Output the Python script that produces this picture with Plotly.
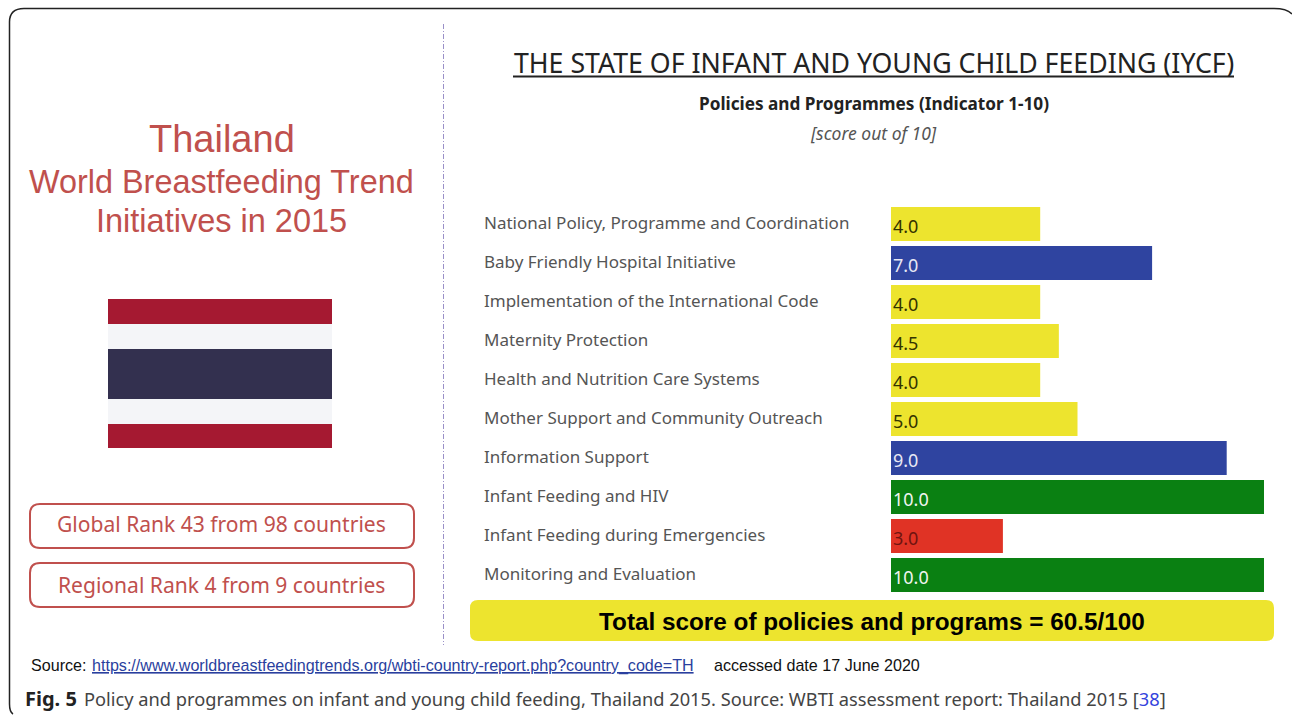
import plotly.graph_objects as go

W, H = 1292, 717

categories = ["National Policy, Programme and Coordination", "Baby Friendly Hospital Initiative",
              "Implementation of the International Code", "Maternity Protection",
              "Health and Nutrition Care Systems", "Mother Support and Community Outreach",
              "Information Support", "Infant Feeding and HIV",
              "Infant Feeding during Emergencies", "Monitoring and Evaluation"]
scores = [4.0, 7.0, 4.0, 4.5, 4.0, 5.0, 9.0, 10.0, 3.0, 10.0]
bar_colors = ["#ede42e", "#2f44a0", "#ede42e", "#ede42e", "#ede42e", "#ede42e", "#2f44a0",
              "#0a8012", "#e03325", "#0a8012"]
label_colors = ["#333300", "#e8e8f4", "#333300", "#333300", "#333300", "#333300", "#e8e8f4",
                "#f0f5f0", "#6e1410", "#f0f5f0"]

px = lambda v: v / W
py = lambda v: 1 - v / H

fig = go.Figure(go.Bar(
    y=categories, x=scores, orientation="h", marker=dict(color=bar_colors, line=dict(width=0)),
    hoverinfo="skip",
))

def txt(x, y, s, size, color, family="Liberation Sans", anchor="center"):
    fig.add_annotation(xref="paper", yref="paper", x=px(x), y=py(y), text=s, showarrow=False,
                       xanchor=anchor, yanchor="middle", borderpad=0,
                       font=dict(size=size, color=color, family=family))

RED = "#c0504d"
txt(221.5, 139, "Thailand", 38, RED)
txt(221.5, 182, "World Breastfeeding Trend", 32.4, RED)
txt(221.5, 221, "Initiatives in 2015", 32.5, RED)
txt(221.5, 523.5, "Global Rank 43 from 98 countries", 21.05, RED, "Noto Sans")
txt(221.5, 584.5, "Regional Rank 4 from 9 countries", 21.05, RED, "Noto Sans")
txt(873.5, 62, "THE STATE OF INFANT AND YOUNG CHILD FEEDING (IYCF)", 26.7, "#222222", "Noto Sans")
txt(873.5, 104, "<b>Policies and Programmes (Indicator 1-10)</b>", 17.2, "#222222", "Noto Sans")
txt(873.5, 133, "<i>[score out of 10]</i>", 17.5, "#555555", "Noto Sans")
txt(872, 621.5, "<b>Total score of policies and programs = 60.5/100</b>", 24.3, "#000000")
txt(30, 665, "Source: ", 16.1, "#111111", anchor="left")
txt(91, 665, "<u>https://www.worldbreastfeedingtrends.org/wbti-country-report.php?country_code=TH</u>", 16.1, "#2a3f9e", anchor="left")
txt(713, 665, "accessed date 17 June 2020", 16.1, "#111111", anchor="left")
txt(24, 698.5, "<b>Fig. 5</b>", 20, "#222222", "Noto Sans", "left")
txt(83, 698.5, "Policy and programmes on infant and young child feeding, Thailand 2015. Source: WBTI assessment report: Thailand 2015 [<span style='color:#3344dd'>38</span>]", 18.25, "#444444", "Noto Sans", "left")
for c, v, col in zip(categories, scores, label_colors):
    fig.add_annotation(xref="paper", yref="y", x=px(482), y=c, text=c, showarrow=False, xanchor="left",
                       yanchor="middle", yshift=2, font=dict(size=17, color="#555555", family="Noto Sans"))
    fig.add_annotation(xref="x", yref="y", x=0, y=c, text=f"{v:.1f}", showarrow=False, xanchor="left",
                       yanchor="middle", xshift=0, yshift=-2, font=dict(size=18, color=col, family="Noto Sans"))

def rrect(x0, y0, x1, y1, r):
    X0, X1 = px(x0), px(x1)
    Y0, Y1 = py(y0), py(y1)
    rx, ry = r / W, r / H
    return (f"M{X0+rx},{Y0} L{X1-rx},{Y0} Q{X1},{Y0} {X1},{Y0-ry} L{X1},{Y1+ry} Q{X1},{Y1} {X1-rx},{Y1} "
            f"L{X0+rx},{Y1} Q{X0},{Y1} {X0},{Y1+ry} L{X0},{Y0-ry} Q{X0},{Y0} {X0+rx},{Y0} Z")

def paper_shape(**k):
    fig.add_shape(xref="paper", yref="paper", layer="below", **k)

frame = (f"M{px(13)},{py(714)} Q{px(9.5)},{py(712)} {px(9.5)},{py(704)} L{px(9.5)},{py(22)} "
         f"Q{px(9.5)},{py(8.5)} {px(24)},{py(8.5)} L{px(1274)},{py(8.5)} Q{px(1287)},{py(8.5)} {px(1292)},{py(14)}")
paper_shape(type="path", path=frame, line=dict(color="#222222", width=1.5))
for y0, y1, col in [(299, 324, "#a51931"), (324, 349, "#f4f5f8"), (349, 399, "#33304f"), (399, 424, "#f4f5f8"), (424, 448, "#a51931")]:
    paper_shape(type="rect", x0=px(108), x1=px(332), y0=py(y0), y1=py(y1), fillcolor=col, line=dict(width=0))
paper_shape(type="path", path=rrect(30, 504, 414, 548, 10), line=dict(color=RED, width=2))
paper_shape(type="path", path=rrect(30, 563, 414, 607, 10), line=dict(color=RED, width=2))
paper_shape(type="path", path=rrect(470, 600, 1274, 641, 8), fillcolor="#ede42e", line=dict(width=0))
paper_shape(type="line", x0=px(443.5), x1=px(443.5), y0=py(24), y1=py(645), line=dict(color="#9a90c8", width=1, dash="5px,2px,1px,2px"))
paper_shape(type="line", x0=px(513), x1=px(1234), y0=py(76.5), y1=py(76.5), line=dict(color="#222222", width=2))

fig.update_layout(
    width=W, height=H, margin=dict(l=0, r=0, t=0, b=0), paper_bgcolor="white", plot_bgcolor="white",
    showlegend=False, bargap=5 / 39,
    xaxis=dict(domain=[px(891), px(1264)], range=[0, 10], visible=False),
    yaxis=dict(domain=[py(594.5), py(204.5)], autorange="reversed", showticklabels=False, ticks="", showgrid=False, zeroline=False, showline=False, anchor="x"),
)
fig.write_html("out.html", config={"displayModeBar": False},
               post_script="document.body.style.margin='0';document.documentElement.style.overflow='hidden';")
